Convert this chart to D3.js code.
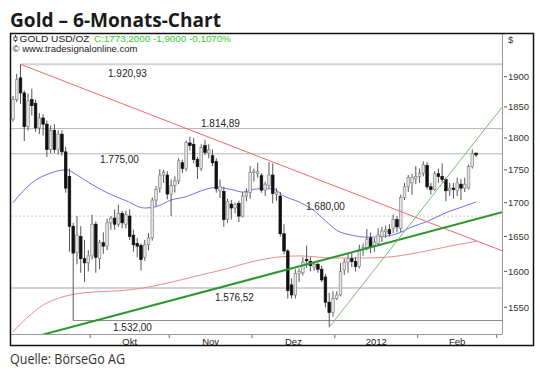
<!DOCTYPE html>
<html><head><meta charset="utf-8">
<script src="https://cdn.jsdelivr.net/npm/d3@7"></script>
<style>html,body{margin:0;padding:0;background:#fff;}svg{display:block;}</style>
</head><body>
<svg id="c" width="540" height="373"></svg>
<script>
// ---------- DATA ----------
const dates = [
"2011-09-02","2011-09-05","2011-09-06","2011-09-07","2011-09-08","2011-09-09","2011-09-12","2011-09-13","2011-09-14","2011-09-15","2011-09-16","2011-09-19","2011-09-20","2011-09-21","2011-09-22","2011-09-23","2011-09-26","2011-09-27","2011-09-28","2011-09-29","2011-09-30",
"2011-10-03","2011-10-04","2011-10-05","2011-10-06","2011-10-07","2011-10-10","2011-10-11","2011-10-12","2011-10-13","2011-10-14","2011-10-17","2011-10-18","2011-10-19","2011-10-20","2011-10-21","2011-10-24","2011-10-25","2011-10-26","2011-10-27","2011-10-28","2011-10-31",
"2011-11-01","2011-11-02","2011-11-03","2011-11-04","2011-11-07","2011-11-08","2011-11-09","2011-11-10","2011-11-11","2011-11-14","2011-11-15","2011-11-16","2011-11-17","2011-11-18","2011-11-21","2011-11-22","2011-11-23","2011-11-24","2011-11-25","2011-11-28","2011-11-29","2011-11-30",
"2011-12-01","2011-12-02","2011-12-05","2011-12-06","2011-12-07","2011-12-08","2011-12-09","2011-12-12","2011-12-13","2011-12-14","2011-12-15","2011-12-16","2011-12-19","2011-12-20","2011-12-21","2011-12-22","2011-12-23","2011-12-26","2011-12-27","2011-12-28","2011-12-29","2011-12-30",
"2012-01-02","2012-01-03","2012-01-04","2012-01-05","2012-01-06","2012-01-09","2012-01-10","2012-01-11","2012-01-12","2012-01-13","2012-01-16","2012-01-17","2012-01-18","2012-01-19","2012-01-20","2012-01-23","2012-01-24","2012-01-25","2012-01-26","2012-01-27","2012-01-30","2012-01-31",
"2012-02-01","2012-02-02","2012-02-03","2012-02-06","2012-02-07","2012-02-08","2012-02-09","2012-02-10","2012-02-13","2012-02-14","2012-02-15","2012-02-16","2012-02-17","2012-02-20","2012-02-21","2012-02-22"];

const open = [1830,1862,1898,1873,1818,1862,1856,1816,1832,1822,1782,1812,1782,1806,1778,1740,1665,1627,1650,1618,1612,
1622,1668,1618,1641,1636,1670,1677,1668,1684,1668,1680,1652,1640,1637,1620,1638,1648,1704,1722,1742,1742,
1713,1726,1733,1761,1752,1792,1790,1766,1752,1788,1776,1772,1763,1718,1717,1675,1698,1692,1699,1680,1710,1715,
1746,1744,1741,1719,1726,1742,1712,1710,1654,1629,1581,1567,1597,1598,1617,1614,1606,1610,1603,1592,1557,1543,
1562,1567,1602,1613,1618,1614,1607,1631,1634,1648,1637,1640,1650,1657,1660,1662,1675,1662,1708,1724,1730,1736,
1740,1745,1757,1724,1720,1744,1740,1735,1718,1722,1718,1728,1722,1722,1755,1776];
const high = [1868,1905,1920.93,1877,1872,1880,1862,1840,1838,1828,1820,1822,1812,1812,1786,1752,1670,1680,1665,1645,1630,
1682,1672,1645,1656,1676,1680,1690,1697,1688,1688,1690,1660,1648,1640,1645,1655,1708,1725,1751,1750,1748,
1735,1740,1768,1766,1796,1802,1800,1770,1790,1797,1790,1782,1768,1735,1724,1706,1704,1700,1703,1716,1722,1756,
1752,1761,1745,1732,1762,1760,1722,1716,1668,1632,1590,1603,1604,1620,1637,1620,1614,1612,1608,1596,1570,1572,
1572,1612,1618,1625,1626,1620,1638,1640,1661,1656,1648,1662,1664,1666,1668,1682,1680,1712,1730,1742,1744,1756,
1752,1763,1762,1730,1748,1752,1760,1738,1730,1730,1738,1736,1738,1758,1782,1777];
const low = [1826,1858,1855,1795,1812,1836,1810,1806,1804,1770,1776,1776,1774,1772,1715,1628,1532,1610,1598,1585,1600,
1617,1598,1603,1625,1630,1660,1660,1664,1662,1662,1645,1628,1620,1601,1615,1630,1644,1695,1715,1730,1705,
1680,1715,1728,1745,1748,1780,1760,1736,1748,1773,1768,1756,1715,1707,1664,1670,1675,1684,1671,1678,1702,1706,
1732,1738,1715,1710,1722,1699,1703,1650,1624,1562,1562,1562,1585,1594,1605,1600,1601,1598,1585,1550,1523,1537,
1560,1565,1595,1598,1606,1600,1604,1622,1630,1626,1628,1636,1642,1648,1650,1655,1656,1656,1704,1716,1712,1728,
1730,1740,1720,1712,1718,1730,1730,1702,1710,1706,1710,1704,1716,1720,1752,1770];
const close = [1862,1895,1873,1818,1860,1852,1816,1832,1822,1782,1812,1782,1806,1778,1722,1665,1626,1652,1618,1612,1622,
1668,1620,1641,1636,1670,1677,1668,1684,1670,1682,1650,1638,1636,1617,1638,1648,1704,1720,1742,1746,1713,
1726,1733,1764,1752,1793,1788,1766,1755,1785,1777,1781,1761,1721,1724,1675,1702,1692,1697,1680,1710,1715,1746,
1748,1747,1719,1728,1742,1714,1716,1654,1629,1573,1567,1597,1600,1613,1615,1608,1610,1603,1588,1557,1543,1562,
1567,1600,1613,1618,1614,1607,1631,1634,1646,1635,1642,1652,1658,1660,1654,1675,1664,1708,1724,1738,1738,1740,
1745,1758,1724,1720,1744,1740,1735,1718,1722,1720,1730,1722,1728,1755,1775,1773.2];

// moving averages (bar index, value)
const maBlueIdx = [0,5,10,14,17,20,25,30,35,38,42,46,50,54,58,61,65,69,72,76,80,83,86,90,94,98,102,106,110,115,119,123];
const maBlueVal = [1700,1730,1745,1750,1742,1731,1715,1703,1692,1694,1704,1709,1718,1723,1720,1716,1721,1721,1710,1701,1688,1673,1659,1652,1649,1650,1654,1664,1672,1685,1693,1701];
const maRedIdx = [0,4,8,13,19,25,31,36,43,50,57,63,70,76,85,93,99,108,116,123];
const maRedVal = [1517,1537,1553,1564,1570,1572,1574,1578,1586,1595,1604,1613,1620,1622,1619,1619,1620,1627,1636,1643];

// trend lines (bar index, price)
const trendRedIdx = [2, 129.9],     trendRedVal = [1920.93, 1629.4];
const trendGreenIdx = [12.5, 129.9], trendGreenVal = [1519.2, 1685.6];
const trendSteepIdx = [84, 129.9],  trendSteepVal = [1523, 1849.4];

// horizontal levels
const levels = [1920.93, 1814.89, 1775.00, 1680.00, 1576.52, 1532.00];
const levelStartIdx = [2, null, null, null, null, 16];

const yTicks = [1550,1600,1650,1700,1750,1800,1850,1900];
const monthLabels = ["Okt","Nov","Dez","2012","Feb"];
const febTradingDays = 21;
const lastChange = -1.9, lastChangePct = -0.107;

// ---------- LAYOUT ----------
const plot = {l:11.1, r:502, t:34, b:334};
const yDomain = [1513.9, 1973];
const levelStyle = [
  {c:"#d2d2d2", w:2, dash:null, lx:108, dy:9},
  {c:"#b4b4b4", w:1, dash:null, lx:201, dy:-5},
  {c:"#b4b4b4", w:1, dash:null, lx:100, dy:6},
  {c:"#c8c8c8", w:1, dash:"2,2", lx:306, dy:-10},
  {c:"#d2d2d2", w:2, dash:null, lx:215, dy:9},
  {c:"#8c8c8c", w:1, dash:null, lx:113, dy:7}
];

const svg = d3.select("#c");
const loc = d3.formatLocale({decimal:",", thousands:".", grouping:[3], currency:["",""], minus:"-"});
const fmtLevel = loc.format(",.2f");
const fmt4 = loc.format(".4f");

const x = d3.scaleLinear().domain([-0.5, 129.9]).range([plot.l, plot.r]);
const y = d3.scaleLog().domain(yDomain).range([plot.b, plot.t]);

svg.append("rect").attr("width",540).attr("height",373).attr("fill","#fff");

svg.append("defs").append("clipPath").attr("id","clip")
  .append("rect").attr("x",plot.l).attr("y",plot.t).attr("width",plot.r-plot.l).attr("height",plot.b-plot.t);

// Title
svg.append("text").attr("x",10).attr("y",26.5)
  .attr("font-family","'Open Sans', 'Noto Sans', sans-serif").attr("font-weight",700)
  .attr("font-size",19.5).attr("fill","#1a1a1a")
  .attr("textLength",211).attr("lengthAdjust","spacingAndGlyphs")
  .text("Gold – 6-Monats-Chart");

// Source
svg.append("text").attr("x",10).attr("y",364)
  .attr("font-family","'Open Sans', 'Noto Sans', sans-serif").attr("font-weight",400)
  .attr("font-size",15).attr("fill","#333")
  .attr("textLength",115).attr("lengthAdjust","spacingAndGlyphs")
  .text("Quelle: BörseGo AG");

const g = svg.append("g");
const gc = g.append("g").attr("clip-path","url(#clip)");

// levels
levels.forEach((v,k)=>{
  const s = levelStyle[k];
  const x0 = levelStartIdx[k]===null ? plot.l : x(levelStartIdx[k]);
  const ln = gc.append("line").attr("x1",x0).attr("x2",plot.r)
    .attr("y1",y(v)).attr("y2",y(v)).attr("stroke",s.c).attr("stroke-width",s.w);
  if (s.dash) ln.attr("stroke-dasharray",s.dash);
});

// moving averages
const lineGen = d3.line().x(d=>x(d[0])).y(d=>y(d[1])).curve(d3.curveMonotoneX);
gc.append("path").datum(maRedIdx.map((i,k)=>[i,maRedVal[k]]))
  .attr("d",lineGen).attr("fill","none").attr("stroke","#f08a8a").attr("stroke-width",1);
gc.append("path").datum(maBlueIdx.map((i,k)=>[i,maBlueVal[k]]))
  .attr("d",lineGen).attr("fill","none").attr("stroke","#6f6ff0").attr("stroke-width",1);

// candles
const step = x(1)-x(0);
const bw = 2.6;
const bars = dates.map((d,i)=>({i, o:open[i], h:high[i], l:low[i], c:close[i]}));
const cg = gc.append("g");
cg.selectAll("line.w").data(bars).join("line")
  .attr("x1",d=>x(d.i)).attr("x2",d=>x(d.i))
  .attr("y1",d=>y(d.h)).attr("y2",d=>y(d.l))
  .attr("stroke","#555").attr("stroke-width",1);
cg.selectAll("rect.b").data(bars).join("rect")
  .attr("x",d=>x(d.i)-bw/2).attr("width",bw)
  .attr("y",d=>y(Math.max(d.o,d.c)))
  .attr("height",d=>Math.max(1,Math.abs(y(d.o)-y(d.c))))
  .attr("fill",d=>d.c>=d.o ? "#e6e6e6" : "#111")
  .attr("stroke",d=>d.c>=d.o ? "#858585" : "#111")
  .attr("stroke-width",0.7);

// trend lines (extended in pixel space through the scales)
function trend(idx, val, xFrom, xTo, color, w){
  const x1=x(idx[0]), y1=y(val[0]), x2=x(idx[1]), y2=y(val[1]);
  const m=(y2-y1)/(x2-x1);
  gc.append("line").attr("x1",xFrom).attr("y1",y1+m*(xFrom-x1))
    .attr("x2",xTo).attr("y2",y1+m*(xTo-x1))
    .attr("stroke",color).attr("stroke-width",w);
}
trend(trendRedIdx, trendRedVal, x(trendRedIdx[0]), plot.r, "#f06a6a", 1);
trend(trendGreenIdx, trendGreenVal, plot.l, plot.r, "#2e962e", 2);
trend(trendSteepIdx, trendSteepVal, x(trendSteepIdx[0]), plot.r, "#6cc06c", 1);

// level labels
levels.forEach((v,k)=>{
  const s = levelStyle[k];
  g.append("text").attr("x",s.lx).attr("y",y(v)+s.dy)
    .attr("dominant-baseline","central")
    .attr("font-family","'Liberation Sans', Arial, sans-serif").attr("font-size",10)
    .attr("fill","#222").text(fmtLevel(v));
});

// plot borders
g.append("line").attr("x1",plot.r+0.5).attr("x2",plot.r+0.5).attr("y1",plot.t).attr("y2",plot.b+0.5)
  .attr("stroke","#9a9a9a").attr("stroke-width",1);
g.append("line").attr("x1",plot.l).attr("x2",plot.r+0.5).attr("y1",plot.b+0.5).attr("y2",plot.b+0.5)
  .attr("stroke","#9a9a9a").attr("stroke-width",1);

// right axis
const axf = "'Liberation Sans', Arial, sans-serif";
yTicks.forEach(v=>{
  g.append("line").attr("x1",plot.r+2).attr("x2",plot.r+5).attr("y1",y(v)).attr("y2",y(v))
    .attr("stroke","#555").attr("stroke-width",1);
  g.append("text").attr("x",plot.r+6).attr("y",y(v)).attr("dominant-baseline","central")
    .attr("font-family",axf).attr("font-size",9.5).attr("fill","#333").text(v);
});
g.append("text").attr("x",plot.r+6).attr("y",39).attr("dominant-baseline","central")
  .attr("font-family",axf).attr("font-size",9.5).attr("fill","#333").text("$");

// bottom axis: month boundaries
const starts = [];
dates.forEach((d,i)=>{ if(i>0 && d.slice(5,7)!==dates[i-1].slice(5,7)) starts.push(i-0.5); });
starts.push(starts[starts.length-1]+febTradingDays);
starts.forEach(b=>{
  g.append("line").attr("x1",x(b)).attr("x2",x(b)).attr("y1",plot.b+1).attr("y2",plot.b+4)
    .attr("stroke","#666").attr("stroke-width",1);
});
monthLabels.forEach((lab,k)=>{
  g.append("text").attr("x",(x(starts[k])+x(starts[k+1]))/2).attr("y",341.5)
    .attr("text-anchor","middle").attr("dominant-baseline","central")
    .attr("font-family",axf).attr("font-size",9.5).attr("fill","#222").text(lab);
});

// legend
const n = close.length-1;
const lg = g.append("g");
lg.append("line").attr("x1",15.5).attr("x2",15.5).attr("y1",35).attr("y2",42).attr("stroke","#333").attr("stroke-width",1);
lg.append("rect").attr("x",14).attr("y",37).attr("width",3).attr("height",3.5).attr("fill","#fff").attr("stroke","#333").attr("stroke-width",0.8);
lg.append("text").attr("x",19.5).attr("y",38.5).attr("dominant-baseline","central")
  .attr("font-family",axf).attr("font-size",9.5).attr("fill","#222")
  .attr("textLength",70).attr("lengthAdjust","spacingAndGlyphs").text("GOLD USD/OZ");
lg.append("text").attr("x",94).attr("y",38.5).attr("dominant-baseline","central")
  .attr("font-family",axf).attr("font-size",9.5).attr("fill","#33cc33")
  .attr("textLength",137).attr("lengthAdjust","spacingAndGlyphs")
  .text("C:"+fmt4(close[n])+" "+fmt4(lastChange)+" "+fmt4(lastChangePct)+"%");
lg.append("text").attr("x",12.5).attr("y",48.5).attr("dominant-baseline","central")
  .attr("font-family",axf).attr("font-size",9.5).attr("fill","#222")
  .attr("textLength",125).attr("lengthAdjust","spacingAndGlyphs").text("© www.tradesignalonline.com");

// outer frame
svg.append("rect").attr("x",10.5).attr("y",33.5).attr("width",523).attr("height",312)
  .attr("fill","none").attr("stroke","#111").attr("stroke-width",1.5);
</script>
</body></html>
